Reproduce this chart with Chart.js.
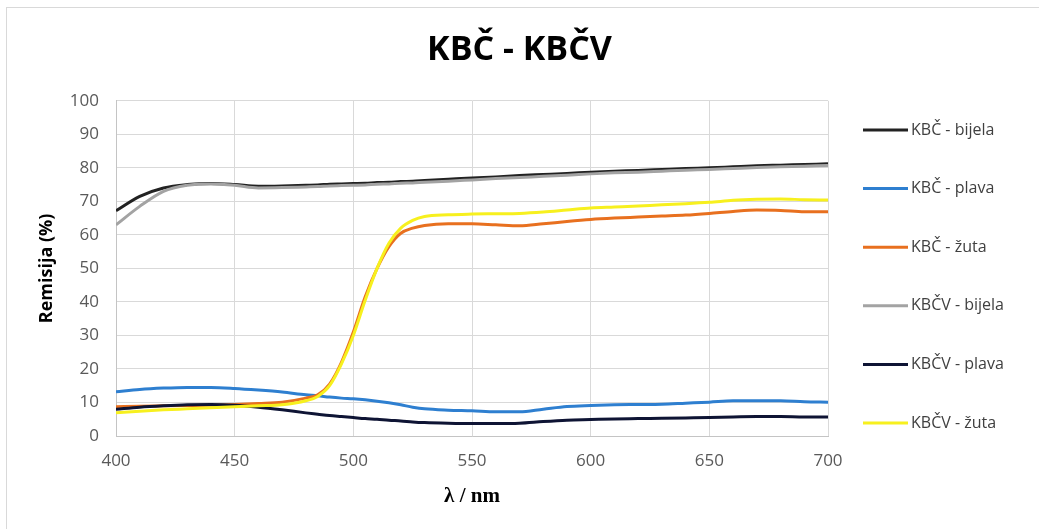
<!DOCTYPE html>
<html>
<head>
<meta charset="utf-8">
<script src="https://cdn.jsdelivr.net/npm/chart.js@4.4.1/dist/chart.umd.min.js"></script>
<style>
  html, body { margin: 0; padding: 0; background: #fff; }
  #wrap { position: relative; width: 1039px; height: 529px; overflow: hidden; }
  #frame { position: absolute; left: 6px; top: 7px; width: 1060px; height: 560px; border: 1px solid #d9d9d9; }
  canvas { position: absolute; left: 0; top: 0; }
</style>
</head>
<body>
<div id="wrap">
  <div id="frame"></div>
  <canvas id="remChart" width="1039" height="529"></canvas>
</div>
<script>
// valne duljine (nm)
const lambda = [400, 410, 420, 430, 440, 450, 460, 470, 480, 485, 490, 495, 500, 505, 510, 515, 520, 525,
  530, 540, 550, 560, 570, 580, 590, 600, 610, 620, 630, 640, 650, 660, 670, 680, 690, 700];

// remisija (%)
const kbcBijela = [67.2, 71.5, 74.0, 75.0, 75.3, 75.0, 74.5, 74.6, 74.8, 74.9, 75.1, 75.2, 75.3, 75.4, 75.6, 75.7, 75.9, 76.0,
  76.2, 76.6, 77.0, 77.3, 77.7, 78.0, 78.3, 78.7, 79.0, 79.2, 79.5, 79.8, 80.0, 80.3, 80.6, 80.8, 81.0, 81.2];
const kbcPlava = [13.2, 13.9, 14.3, 14.5, 14.5, 14.2, 13.7, 13.1, 12.3, 12.0, 11.6, 11.3, 11.1, 10.8, 10.4, 9.9, 9.3, 8.6,
  8.1, 7.7, 7.5, 7.2, 7.2, 8.0, 8.8, 9.1, 9.3, 9.4, 9.5, 9.8, 10.1, 10.5, 10.5, 10.5, 10.2, 10.1];
const kbcZuta = [8.7, 8.9, 9.0, 9.1, 9.2, 9.4, 9.7, 10.1, 11.3, 12.3, 15.5, 22.0, 31.0, 41.5, 50.0, 56.5, 60.5, 62.0,
  62.8, 63.3, 63.3, 63.0, 62.7, 63.3, 64.0, 64.6, 65.0, 65.3, 65.6, 65.9, 66.4, 67.0, 67.4, 67.3, 66.9, 66.9];
const kbcvBijela = [63.0, 68.5, 73.0, 74.8, 75.2, 74.8, 74.0, 74.1, 74.3, 74.4, 74.6, 74.7, 74.8, 74.9, 75.1, 75.2, 75.4, 75.5,
  75.7, 76.0, 76.4, 76.8, 77.1, 77.5, 77.8, 78.2, 78.5, 78.7, 79.0, 79.3, 79.5, 79.8, 80.1, 80.3, 80.5, 80.7];
const kbcvPlava = [8.0, 8.6, 9.0, 9.3, 9.4, 9.2, 8.6, 7.8, 6.9, 6.5, 6.1, 5.8, 5.5, 5.2, 5.0, 4.7, 4.5, 4.2,
  4.0, 3.8, 3.7, 3.7, 3.8, 4.3, 4.7, 4.9, 5.1, 5.2, 5.3, 5.4, 5.5, 5.7, 5.8, 5.8, 5.7, 5.7];
const kbcvZuta = [6.9, 7.4, 7.8, 8.1, 8.4, 8.7, 9.0, 9.3, 10.5, 11.8, 15.0, 21.5, 30.0, 40.5, 50.0, 57.5, 62.0, 64.3,
  65.5, 66.0, 66.2, 66.3, 66.4, 66.8, 67.4, 68.0, 68.3, 68.6, 69.0, 69.3, 69.7, 70.3, 70.6, 70.7, 70.5, 70.4];

const seriesNames = ['KBČ - bijela', 'KBČ - plava', 'KBČ - žuta', 'KBČV - bijela', 'KBČV - plava', 'KBČV - žuta'];
const seriesData = [kbcBijela, kbcPlava, kbcZuta, kbcvBijela, kbcvPlava, kbcvZuta];
const seriesColors = ['#222222', '#2e7fd0', '#e8701f', '#a3a3a3', '#0e1434', '#f7f01e'];

const FONT = '"Open Sans", "Noto Sans", sans-serif';

// legenda desno, kao u Excelu
const sideLegend = {
    id: 'sideLegend',
    afterDraw(chart) {
        const ctx = chart.ctx;
        const x0 = 863, x1 = 908, yStart = 130, step = 58.6;
        ctx.save();
        ctx.font = '16px ' + FONT;
        ctx.textBaseline = 'middle';
        ctx.fillStyle = '#404040';
        chart.data.datasets.forEach((ds, i) => {
            const y = yStart + i * step;
            ctx.strokeStyle = ds.borderColor;
            ctx.lineWidth = 3;
            ctx.beginPath();
            ctx.moveTo(x0, y);
            ctx.lineTo(x1, y);
            ctx.stroke();
            ctx.fillText(ds.label, x1 + 3, y);
        });
        ctx.restore();
    }
};

const datasets = seriesNames.map((name, i) => ({
    label: name,
    data: lambda.map((l, k) => ({ x: l, y: seriesData[i][k] })),
    borderColor: seriesColors[i],
    backgroundColor: seriesColors[i],
    borderWidth: 3,
    pointRadius: 0,
    fill: false,
    cubicInterpolationMode: 'monotone',
    order: 6 - i
}));

new Chart(document.getElementById('remChart'), {
    type: 'line',
    data: { datasets: datasets },
    plugins: [sideLegend],
    options: {
        responsive: false,
        animation: false,
        layout: { padding: 0 },
        plugins: {
            legend: { display: false },
            tooltip: { enabled: false },
            title: {
                display: true,
                text: 'KBČ - KBČV',
                color: '#000',
                font: { family: FONT, size: 34, weight: 'bold' },
                padding: { top: 30, bottom: 30 }
            }
        },
        scales: {
            x: {
                type: 'linear',
                min: 400, max: 700,
                ticks: { stepSize: 50, color: '#595959', font: { family: FONT, size: 17 }, padding: 15 },
                grid: { color: '#d9d9d9', drawTicks: false },
                border: { color: '#c4c4c4' },
                title: {
                    display: true,
                    text: 'λ / nm',
                    color: '#000',
                    font: { family: '"Liberation Serif", "DejaVu Serif", serif', size: 21, weight: 'bold' },
                    padding: { top: 0, bottom: 20 }
                },
                afterFit(scale) { scale.height = 93; }
            },
            y: {
                min: 0, max: 100,
                ticks: { stepSize: 10, color: '#595959', font: { family: FONT, size: 17 }, padding: 17 },
                grid: { color: '#d9d9d9', drawTicks: false },
                border: { color: '#c4c4c4' },
                title: {
                    display: true,
                    text: 'Remisija (%)',
                    color: '#000',
                    font: { family: FONT, size: 18, weight: 'bold' },
                    padding: { top: 36, bottom: 0 }
                },
                afterFit(scale) { scale.width = 116; }
            },
            // prazan prostor za legendu desno
            legendSpace: {
                position: 'right',
                min: 0, max: 100,
                ticks: { display: false },
                grid: { display: false, drawOnChartArea: false },
                border: { display: false },
                afterFit(scale) { scale.width = 211; }
            }
        }
    }
});
</script>
</body>
</html>
